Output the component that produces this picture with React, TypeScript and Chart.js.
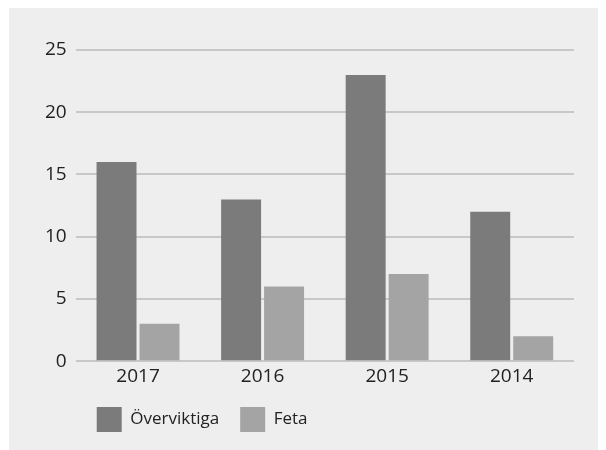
import React, { useEffect, useRef } from "react";
import { Chart, registerables } from "chart.js";

Chart.register(...registerables);

const categories = ["2017", "2016", "2015", "2014"];
const overviktiga = [16, 13, 23, 12];
const feta = [3, 6, 7, 2];
const yTicks = [0, 5, 10, 15, 20, 25];

export default function App() {
  const ref = useRef<HTMLCanvasElement | null>(null);
  useEffect(() => {
    if (!ref.current) return;
    const chart = new Chart(ref.current, {
      type: "bar",
      data: {
        labels: categories,
        datasets: [
          {
            label: "Överviktiga",
            data: overviktiga,
            backgroundColor: "#7a7b7a",
            barPercentage: 0.93,
            categoryPercentage: 0.69,
          },
          {
            label: "Feta",
            data: feta,
            backgroundColor: "#a3a4a3",
            barPercentage: 0.93,
            categoryPercentage: 0.69,
          },
        ],
      },
      options: {
        animation: false,
        responsive: false,
        maintainAspectRatio: false,
        layout: { padding: { top: 43, right: 32, bottom: 8, left: 27 } },
        font: { family: "'Open Sans', sans-serif" },
        plugins: {
          tooltip: { enabled: false },
          legend: {
            position: "bottom",
            align: "start",
            fullSize: false,
            labels: {
              boxWidth: 25,
              boxHeight: 25,
              padding: 21,
              color: "#222",
              font: { size: 17, family: "'Open Sans', sans-serif" },
            },
          },
        },
        scales: {
          x: {
            grid: { display: false, drawTicks: false },
            border: { display: false },
            afterFit: (s: any) => {
              s.height -= 6;
            },
            ticks: {
              color: "#222",
              padding: 4,
              font: { size: 19, family: "'Open Sans', sans-serif" },
            },
          },
          y: {
            min: 0,
            max: 25,
            afterBuildTicks: (s: any) => {
              s.ticks = yTicks.map((v) => ({ value: v }));
            },
            grid: { color: "#c8c8c8", lineWidth: 2, drawTicks: false },
            border: { display: false },
            ticks: {
              color: "#222",
              padding: 9,
              font: { size: 19, family: "'Open Sans', sans-serif" },
            },
          },
        },
      },
    });
    return () => chart.destroy();
  }, []);
  return (
    <div
      style={{
        width: 597,
        height: 443,
        marginTop: -1,
        marginLeft: 1,
        background: "#eeeeee",
      }}
    >
      <canvas ref={ref} width={597} height={443} style={{ display: "block" }} />
    </div>
  );
}
